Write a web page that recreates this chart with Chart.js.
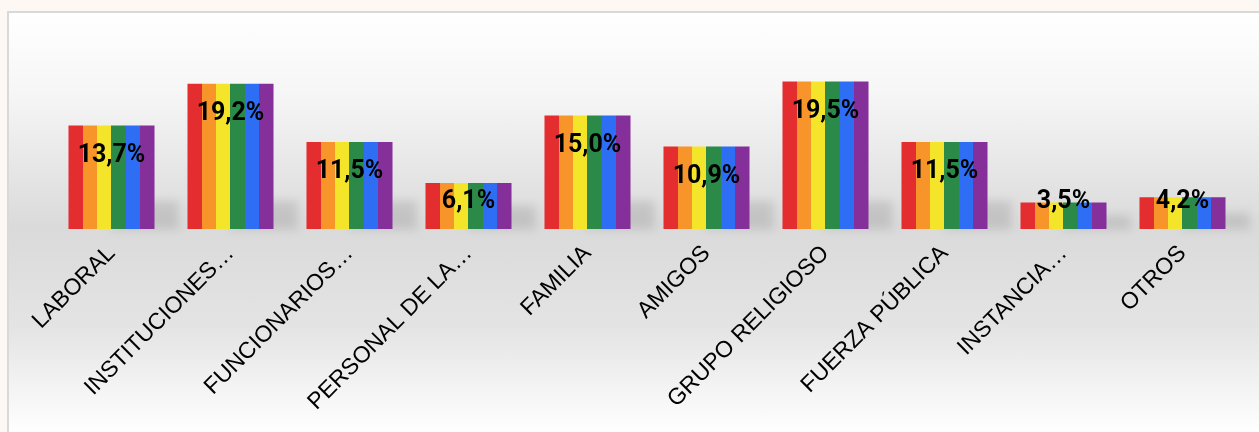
<!DOCTYPE html>
<html>
<head>
<meta charset="utf-8">
<script src="https://cdn.jsdelivr.net/npm/chart.js@4.4.1/dist/chart.umd.min.js"></script>
<style>
  html, body { margin: 0; padding: 0; background: #fdf8f4; overflow: hidden; }
  #marco {
    position: absolute; left: 7px; top: 11px; width: 1300px; height: 460px;
    border: 2px solid #d9d9d9;
    background: linear-gradient(to bottom, #ffffff 0px, #f6f6f6 80px, #dadada 215px, #e4e4e4 315px, #ffffff 420px);
  }
  #caja { position: absolute; left: 0; top: 0; width: 1259px; height: 432px; }
</style>
</head>
<body>
<div id="marco"></div>
<div id="caja"><canvas id="grafico"></canvas></div>
<script>
// datos
const categorias = ['LABORAL', 'INSTITUCIONES…', 'FUNCIONARIOS…', 'PERSONAL DE LA…', 'FAMILIA',
                    'AMIGOS', 'GRUPO RELIGIOSO', 'FUERZA PÚBLICA', 'INSTANCIA…', 'OTROS'];
const porcentajes = [13.7, 19.2, 11.5, 6.1, 15.0, 10.9, 19.5, 11.5, 3.5, 4.2];
const franjas = ['#e32d2e', '#f7952b', '#f5e52a', '#2c8a48', '#2e6ef5', '#85309a'];

// bandera arcoiris + sombra suave a la derecha de cada barra
const arcoiris = {
    id: 'arcoiris',
    beforeDatasetsDraw(chart) {
        const ctx = chart.ctx;
        chart.getDatasetMeta(0).data.forEach(bar => {
            const left = bar.x - bar.width / 2;
            const h = bar.base - bar.y;
            // sombra
            ctx.save();
            ctx.filter = 'blur(5px)';
            ctx.fillStyle = 'rgba(0,0,0,0.11)';
            const sh = Math.min(28, h * 0.5);
            ctx.fillRect(bar.x, bar.base - sh, bar.width / 2 + 24, sh);
            ctx.restore();

            const g = ctx.createLinearGradient(left, 0, left + bar.width, 0);
            franjas.forEach((c, i) => {
                g.addColorStop(i / franjas.length, c);
                g.addColorStop((i + 1) / franjas.length - 0.001, c);
            });
            bar.options.backgroundColor = g;
        });
    }
};

const etiquetas = {
    id: 'etiquetas',
    afterDatasetsDraw(chart) {
        const ctx = chart.ctx;
        ctx.save();
        ctx.font = 'bold 25px Roboto, "Open Sans", sans-serif';
        ctx.textAlign = 'center';
        ctx.textBaseline = 'middle';
        ctx.fillStyle = '#000';
        chart.getDatasetMeta(0).data.forEach((bar, i) => {
            const txt = porcentajes[i].toFixed(1).replace('.', ',') + '%';
            const y = Math.min(bar.y + 30, bar.base - 27);
            ctx.fillText(txt, bar.x, y);
        });
        ctx.restore();
    }
};

new Chart(document.getElementById('grafico').getContext('2d'), {
    type: 'bar',
    data: {
        labels: categorias,
        datasets: [{
            data: porcentajes,
            backgroundColor: (c) => franjas[c.dataIndex % 1], // scriptable => opciones por barra
            borderWidth: 0,
            categoryPercentage: 1,
            barPercentage: 0.723
        }]
    },
    options: {
        responsive: true,
        maintainAspectRatio: false,
        animation: false,
        layout: { padding: { left: 52, right: 17, top: 40, bottom: 0 } },
        plugins: { legend: { display: false }, tooltip: { enabled: false } },
        scales: {
            x: {
                grid: { display: false },
                border: { display: false },
                ticks: {
                    autoSkip: false,
                    minRotation: 45,
                    maxRotation: 45,
                    padding: 3,
                    color: '#000',
                    font: { family: '"Liberation Sans", Arial, sans-serif', size: 23 }
                },
                afterFit(scale) {
                    scale.height = 203;
                    scale.paddingLeft = 0;
                    scale.paddingRight = 0;
                }
            },
            y: { display: false, min: 0, max: 25 }
        }
    },
    plugins: [arcoiris, etiquetas]
});
</script>
</body>
</html>
